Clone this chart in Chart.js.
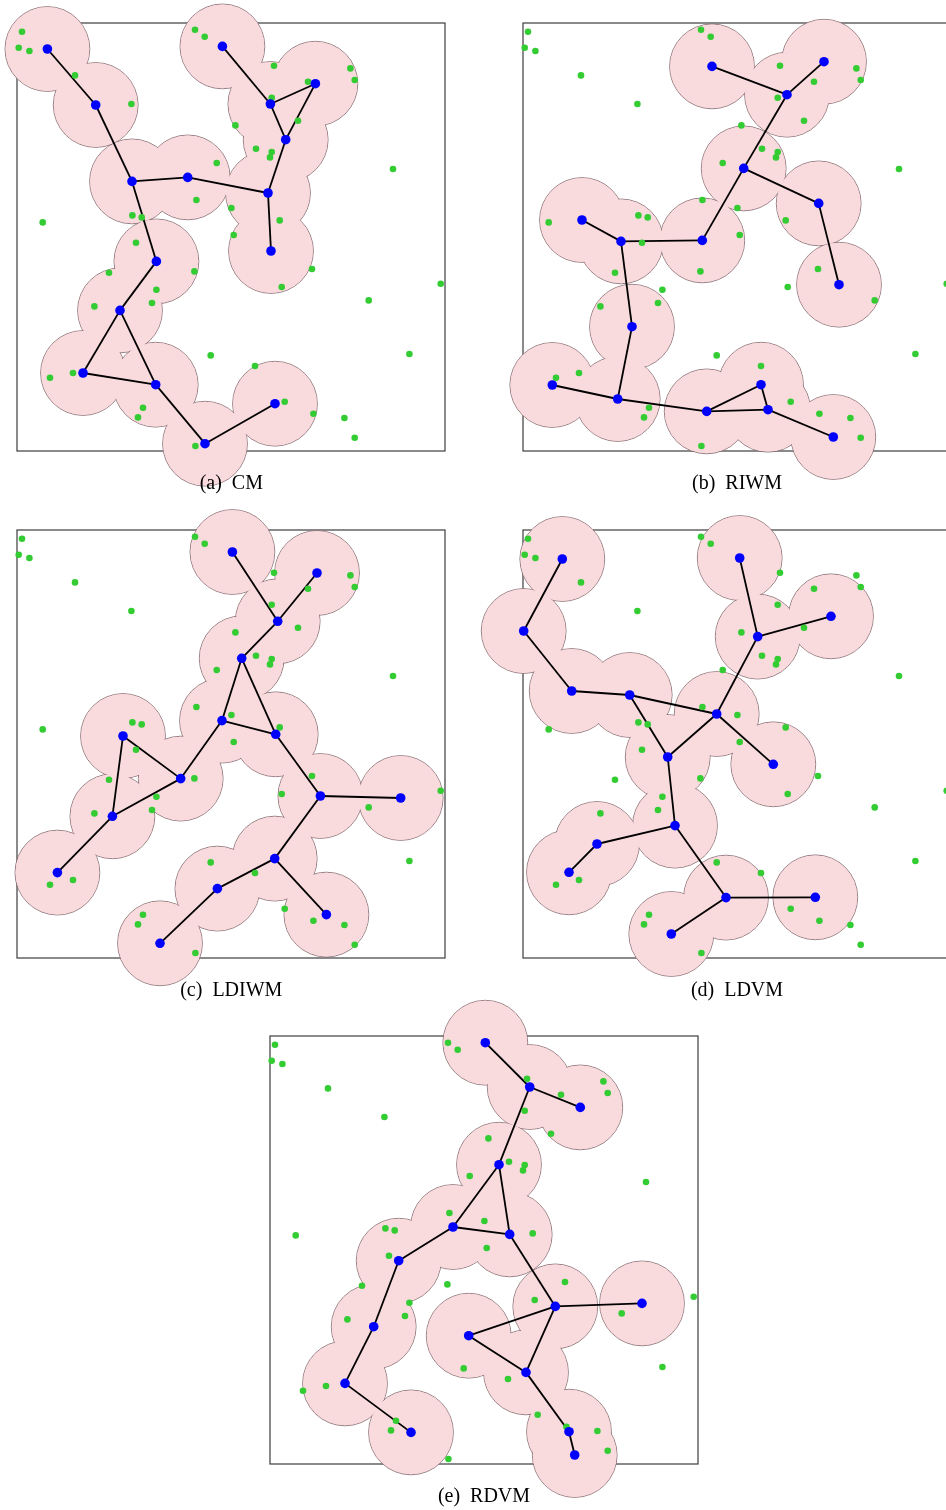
<!DOCTYPE html>
<html>
<head>
<meta charset="utf-8">
<script src="https://cdn.jsdelivr.net/npm/chart.js@4.4.0/dist/chart.umd.min.js"></script>
<style>
html, body { margin: 0; padding: 0; background: #fff; }
body { width: 946px; height: 1510px; position: relative; overflow: hidden; }
canvas.panel { position: absolute; }
.caption {
    position: absolute; width: 300px; text-align: center;
    font-family: "Liberation Serif", "Times New Roman", serif;
    font-size: 20px; line-height: 20px; white-space: pre; color: #000;
}
</style>
</head>
<body>
<script>
// =============================
// Coverage maps: 5 deployment methods, same field of targets
// coordinates in box units (0..428), y measured from the top
// =============================

// green targets (same in every panel)
const targets = [
    [5, 8.7], [1.7, 24.7], [12.4, 28], [58, 52.4], [114.4, 81], [178, 6.7], [187.7, 13.7],
    [257, 42.7], [333.4, 45.4], [337.7, 57], [291, 58.7], [254.7, 74.7], [281, 97.7],
    [218.4, 102.4], [239, 125.7], [254.7, 129], [253, 134.4], [199.7, 140], [376, 146],
    [179.4, 177], [214.4, 185], [262.7, 197.4], [115.4, 192.4], [124.7, 194.4], [25.7, 199.4],
    [216.7, 212], [119, 219.7], [92, 249.7], [177.4, 248.4], [139.4, 266.7], [135, 280],
    [77.4, 283.4], [295, 246], [264.7, 264], [423.7, 260.7], [351.7, 277.4], [193.7, 332.4],
    [392.4, 331], [238, 343], [33, 354.7], [56, 350], [126, 384.7], [121, 394.4],
    [267.7, 378.7], [296.4, 390.7], [327.4, 395], [337.7, 414.7], [178.4, 423]
];

// (a) CM
const cmNodes = [
    [30.4, 26], [78.7, 82], [115, 158.4], [170.7, 154.4], [251, 170], [205.4, 23.4],
    [253.4, 81], [298.4, 60.7], [268.7, 116.7], [254, 228], [139.4, 238.4], [103, 287.4],
    [66, 350], [138.7, 361.7], [188, 420.7], [258, 380.7]
];
const cmEdges = [[0, 1], [1, 2], [2, 3], [3, 4], [5, 6], [6, 7], [6, 8], [7, 8], [8, 4],
    [4, 9], [2, 10], [10, 11], [11, 12], [11, 13], [12, 13], [13, 14], [14, 15]];

// (b) RIWM
const riwmNodes = [
    [189, 43.4], [301, 38.7], [264, 71.7], [220.7, 145.4], [295.7, 180.4], [59, 197],
    [98, 218.4], [179.3, 217.4], [316, 261.7], [109, 303.7], [29.3, 362], [94.7, 376],
    [183.7, 388.4], [238, 361.7], [245, 386.7], [310.3, 414]
];
const riwmEdges = [[0, 2], [1, 2], [2, 3], [3, 4], [4, 8], [3, 7], [7, 6], [5, 6], [6, 9],
    [9, 11], [10, 11], [11, 12], [12, 13], [13, 14], [12, 14], [14, 15]];

// (c) LDIWM
const ldiwmNodes = [
    [215.4, 22], [300, 43], [260.7, 91.3], [224.7, 128.3], [205, 190.6], [258.7, 204.3],
    [106, 206], [163.7, 248.6], [95.4, 286.3], [40.4, 342.6], [303.4, 266], [383.7, 268],
    [257.7, 328.6], [200.4, 358.6], [143, 413.3], [309.4, 384.6]
];
const ldiwmEdges = [[0, 2], [1, 2], [2, 3], [3, 4], [3, 5], [4, 5], [4, 7], [6, 7], [6, 8],
    [7, 8], [8, 9], [5, 10], [10, 11], [10, 12], [12, 13], [13, 14], [12, 15]];

// (d) LDVM
const ldvmNodes = [
    [39.3, 29], [0.7, 101], [48.7, 161], [106.7, 165], [193.7, 184], [216.7, 28],
    [234.7, 106.6], [308, 86.3], [144.7, 227], [250.3, 234.3], [152, 295.6], [74, 314],
    [46, 342.3], [203, 367.6], [292.3, 367.3], [148.3, 404]
];
const ldvmEdges = [[0, 1], [1, 2], [2, 3], [3, 4], [5, 6], [6, 7], [6, 4], [3, 8], [8, 4],
    [4, 9], [8, 10], [10, 11], [11, 12], [10, 13], [13, 14], [13, 15]];

// (e) RDVM
const rdvmNodes = [
    [215.3, 6.7], [259.7, 51], [310.3, 71.4], [229, 128.7], [183, 191], [239.7, 198.4],
    [128.7, 224.7], [103.7, 290.7], [75, 347.4], [141, 396.4], [285.3, 270.4], [372, 267.4],
    [198.7, 299.7], [256, 336.4], [299, 395.7], [304.7, 419]
];
const rdvmEdges = [[0, 1], [1, 2], [1, 3], [3, 4], [3, 5], [4, 5], [4, 6], [6, 7], [7, 8],
    [8, 9], [5, 10], [10, 11], [10, 12], [10, 13], [12, 13], [13, 14], [14, 15]];

const FIELD = 428;     // box side in data units (= px)
const PAD = 46;        // room for circles outside the box
const PINK = '#f9dadd';
const OUTLINE = 'rgba(120, 95, 100, 0.85)';
const GREEN = '#33cc33';
const BLUE = '#0000ff';

// box around the field, drawn under the circles
const boxPlugin = {
    id: 'fieldBox',
    beforeDatasetsDraw(chart) {
        const { ctx, chartArea } = chart;
        ctx.save();
        ctx.strokeStyle = '#3c3c3c';
        ctx.lineWidth = 1.2;
        ctx.strokeRect(chartArea.left, chartArea.top, chartArea.width, chartArea.height);
        ctx.restore();
    }
};

const panels = [
    { label: '(a)  CM', nodes: cmNodes, edges: cmEdges, left: 17.3, top: 23.3 },
    { label: '(b)  RIWM', nodes: riwmNodes, edges: riwmEdges, left: 523, top: 23.3 },
    { label: '(c)  LDIWM', nodes: ldiwmNodes, edges: ldiwmEdges, left: 17.3, top: 529.7 },
    { label: '(d)  LDVM', nodes: ldvmNodes, edges: ldvmEdges, left: 523, top: 529.7 },
    { label: '(e)  RDVM', nodes: rdvmNodes, edges: rdvmEdges, left: 270, top: 1036.3 }
];

function makePanel(p) {
    const canvas = document.createElement('canvas');
    canvas.className = 'panel';
    canvas.width = FIELD + 2 * PAD;
    canvas.height = FIELD + 2 * PAD;
    canvas.style.left = (p.left - PAD) + 'px';
    canvas.style.top = (p.top - PAD) + 'px';
    document.body.appendChild(canvas);

    const pts = p.nodes.map(n => ({ x: n[0], y: n[1] }));
    const tgt = targets.map(t => ({ x: t[0], y: t[1] }));

    const edgeSets = p.edges.map(e => ({
        data: [pts[e[0]], pts[e[1]]],
        showLine: true,
        borderColor: '#000',
        borderWidth: 1.8,
        pointRadius: 0,
        fill: false,
        clip: false,
        order: 2
    }));

    new Chart(canvas, {
        type: 'scatter',
        data: {
            datasets: [
                // coverage discs with outline
                { data: pts, pointRadius: 42.4, pointBackgroundColor: PINK,
                  pointBorderColor: OUTLINE, pointBorderWidth: 0.9, clip: false, order: 4 },
                // same discs again, no outline -> only the union border stays
                { data: pts, pointRadius: 41.9, pointBackgroundColor: PINK,
                  pointBorderWidth: 0, clip: false, order: 3 },
                ...edgeSets,
                { data: tgt, pointRadius: 3.3, pointBackgroundColor: GREEN,
                  pointBorderWidth: 0, clip: false, order: 1 },
                { data: pts, pointRadius: 4.8, pointBackgroundColor: BLUE,
                  pointBorderWidth: 0, clip: false, order: 0 }
            ]
        },
        options: {
            responsive: false,
            animation: false,
            events: [],
            layout: { padding: PAD },
            plugins: { legend: { display: false }, tooltip: { enabled: false } },
            scales: {
                x: { type: 'linear', display: false, min: 0, max: FIELD },
                y: { type: 'linear', display: false, min: 0, max: FIELD, reverse: true }
            }
        },
        plugins: [boxPlugin]
    });

    const cap = document.createElement('div');
    cap.className = 'caption';
    cap.textContent = p.label;
    cap.style.left = (p.left + FIELD / 2 - 150) + 'px';
    cap.style.top = (p.top + FIELD + 21) + 'px';
    document.body.appendChild(cap);
}

panels.forEach(makePanel);
</script>
</body>
</html>
